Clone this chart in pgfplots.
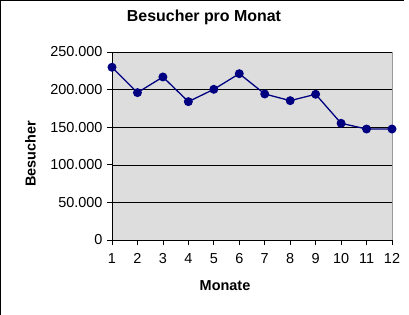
\documentclass[border=0pt]{standalone}
\usepackage{fontspec}
\setmainfont{Liberation Sans}
\usepackage{pgfplots}
\pgfplotsset{compat=1.18}
\definecolor{navy}{HTML}{000080}
\definecolor{plotbg}{HTML}{DDDDDD}
\begin{document}
\begin{tikzpicture}[x=1bp,y=1bp]
\path[use as bounding box] (0,0) rectangle (409,-315);
\draw[black, line width=1.2bp] (0.6,-315) -- (0.6,-0.6) -- (404,-0.6);
\begin{axis}[
  at={(112bp,-240bp)}, anchor=south west,
  scale only axis, width=280bp, height=188bp,
  xmin=1, xmax=12, ymin=0, ymax=250000,
  xtick={1,...,12},
  ytick={0,50000,...,250000},
  axis lines*=left,
  axis line style={black, line width=0.8bp, -},
  axis background/.style={fill=plotbg, draw=gray!80, line width=0.8bp},
  ymajorgrids, grid style={black, line width=0.6bp},
  tick align=outside, major tick length=5bp,
  tick style={black, line width=0.7bp},
  scaled y ticks=false,
  /pgf/number format/.cd, 1000 sep={.}, fixed, assume math mode=true,
  /pgfplots/.cd,
  tick label style={font=\fontsize{14.5}{16}\selectfont},
  yticklabel style={xshift=-1bp},
  xticklabel style={yshift=-5bp},
  clip=false,
  title={Besucher pro Monat},
  title style={font=\fontsize{16}{18}\selectfont\bfseries, at={(axis description cs:0.5,1)}, anchor=center, xshift=-48bp, yshift=29bp},
  xlabel={Monate},
  xlabel style={font=\fontsize{14.5}{16}\selectfont\bfseries, at={(axis description cs:0.5,0)}, anchor=center, xshift=-27bp, yshift=-46bp},
  ylabel={Besucher},
  ylabel style={font=\fontsize{14.5}{16}\selectfont\bfseries, at={(axis description cs:-0.291,0.459)}, anchor=center, rotate=0},
]
\addplot[navy, line width=1.3bp, mark=*, mark size=3.8bp, mark options={fill=navy, draw=navy}]
coordinates {(1,229700) (2,196000) (3,216800) (4,184000) (5,200400) (6,221200) (7,194200) (8,185300) (9,193800) (10,155200) (11,147600) (12,147600)};
\end{axis}
\end{tikzpicture}
\end{document}
